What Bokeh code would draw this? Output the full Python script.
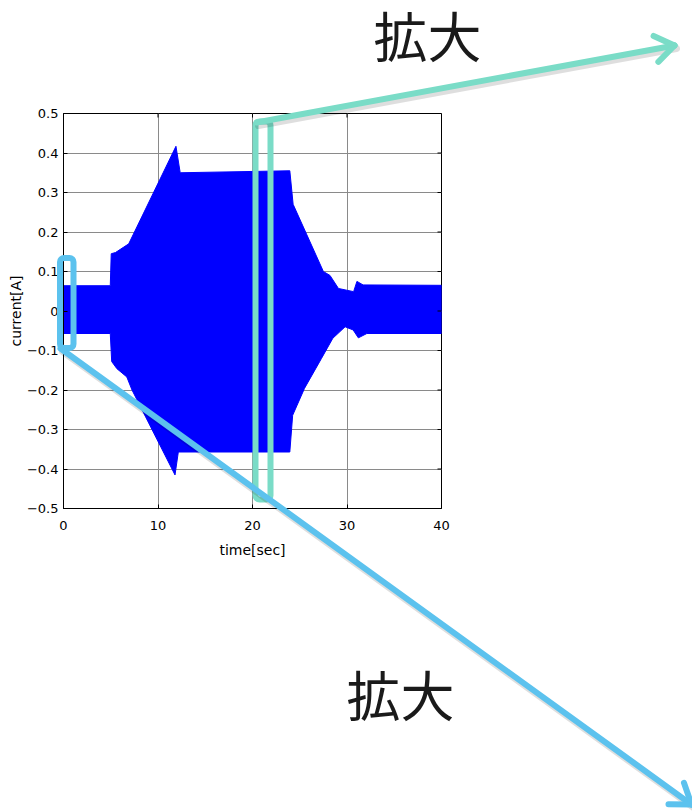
import math
from bokeh.plotting import figure
from bokeh.models import Range1d, FixedTicker
from bokeh.core.properties import value
from bokeh.embed import file_html
from bokeh.resources import INLINE

# envelope of the current waveform (upper / lower)
t_upper = [0.0, 4.95, 5.05, 5.5, 6.9, 11.9, 12.35, 23.95, 24.3, 27.5, 28.2, 29.1, 30.7, 31.05, 31.7, 40.0]
i_upper = [0.064, 0.064, 0.145, 0.148, 0.17, 0.417, 0.35, 0.355, 0.27, 0.10, 0.09, 0.057, 0.049, 0.075, 0.066, 0.065]
t_lower = [0.0, 4.95, 5.1, 5.65, 6.7, 7.25, 11.8, 12.15, 23.95, 24.25, 25.5, 27.3, 28.5, 29.8, 30.65, 31.2, 32.1, 40.0]
i_lower = [-0.057, -0.057, -0.128, -0.146, -0.167, -0.2, -0.415, -0.357, -0.357, -0.264, -0.196, -0.12, -0.069, -0.04, -0.048, -0.068, -0.057, -0.057]

x_ticks = [0, 10, 20, 30, 40]
y_ticks = [-0.5, -0.4, -0.3, -0.2, -0.1, 0, 0.1, 0.2, 0.3, 0.4, 0.5]
y_tick_labels = ["\u22120.5", "\u22120.4", "\u22120.3", "\u22120.2", "\u22120.1", "0",
                 "0.1", "0.2", "0.3", "0.4", "0.5"]

zoom_label = "拡大"
x_label = "time[sec]"
y_label = "current[A]"

FONT = "DejaVu Sans"
TEAL = "#7adcc7"
SKY = "#5cc2ee"

# layout (canvas pixels)
W, H = 692, 812
FL, FT, FW, FH = 63, 113, 378, 395
X0, X1, Y0, Y1 = 0, 40, -0.5, 0.5


def X(px):
    return X0 + (px - FL) / FW * (X1 - X0)


def Y(py):
    return Y1 - (py - FT) / FH * (Y1 - Y0)


p = figure(output_backend="svg", toolbar_location=None,
           frame_width=FW, frame_height=FH,
           min_border_left=FL, min_border_right=W - FL - FW,
           min_border_top=FT, min_border_bottom=H - FT - FH,
           x_range=Range1d(X0, X1), y_range=Range1d(Y0, Y1),
           background_fill_color="white", border_fill_color="white")

p.outline_line_color = "black"
p.outline_line_width = 1

for ax in (p.xaxis[0], p.yaxis[0]):
    ax.axis_line_color = "black"
    ax.major_tick_line_color = "black"
    ax.major_tick_in = 4
    ax.major_tick_out = 0
    ax.minor_tick_line_color = None
    ax.major_label_text_font = FONT
    ax.major_label_text_font_size = "13px"
    ax.major_label_text_color = "black"
    ax.axis_label_text_font = FONT
    ax.axis_label_text_font_size = "14px"
    ax.axis_label_text_font_style = "normal"
    ax.axis_label_text_color = "black"

p.xaxis[0].ticker = FixedTicker(ticks=x_ticks)
p.yaxis[0].ticker = FixedTicker(ticks=y_ticks)
p.yaxis[0].major_label_overrides = {v: s for v, s in zip(y_ticks, y_tick_labels)}
p.xaxis[0].axis_label = x_label
p.yaxis[0].axis_label = y_label
p.xaxis[0].major_label_standoff = 12
p.xaxis[0].axis_label_standoff = 9
p.yaxis[0].major_label_standoff = 5
p.yaxis[0].axis_label_standoff = 0

p.xgrid.ticker = FixedTicker(ticks=x_ticks)
p.ygrid.ticker = FixedTicker(ticks=y_ticks)
p.grid.grid_line_color = "#8a8a8a"
p.grid.grid_line_width = 1

# waveform envelope
xs = t_upper + t_lower[::-1]
ys = i_upper + i_lower[::-1]
p.patch(xs, ys, fill_color="#0000ff", line_color="#0000ff", line_width=1)

# inward tick marks on the top and right edges of the box
tick_dx = 4 / FW * (X1 - X0)
tick_dy = 4 / FH * (Y1 - Y0)
p.segment(x0=x_ticks, x1=x_ticks, y0=[Y1] * len(x_ticks), y1=[Y1 - tick_dy] * len(x_ticks),
          line_color="black", line_width=1)
p.segment(x0=[X1] * len(y_ticks), x1=[X1 - tick_dx] * len(y_ticks), y0=y_ticks, y1=y_ticks,
          line_color="black", line_width=1)


def seg(a, b, color, width, alpha=1.0):
    p.line([X(a[0]), X(b[0])], [Y(a[1]), Y(b[1])], line_color=color, line_alpha=alpha,
           line_width=width, line_cap="round", level="overlay")


def arrow(start, tip, color, head=23, ang=35):
    seg((start[0] + 2, start[1] + 3), (tip[0] + 2, tip[1] + 3), "#000000", 7, 0.13)
    seg(start, tip, color, 6)
    dx, dy = start[0] - tip[0], start[1] - tip[1]
    n = math.hypot(dx, dy)
    ux, uy = dx / n, dy / n
    for s in (1, -1):
        a = math.radians(ang * s)
        wx = ux * math.cos(a) - uy * math.sin(a)
        wy = ux * math.sin(a) + uy * math.cos(a)
        seg(tip, (tip[0] + wx * head, tip[1] + wy * head), color, 6)


def box(l, r, t, b, color):
    p.quad(left=[X(l)], right=[X(r)], top=[Y(t)], bottom=[Y(b)], fill_alpha=0,
           line_color=color, line_width=6, border_radius=4, level="overlay")


# highlight boxes
box(255, 270, 121, 499, TEAL)
box(59.5, 73, 257.5, 347.5, SKY)

# zoom arrows
arrow((256, 122), (674, 45), TEAL)
arrow((60, 348), (691, 804), SKY)

# "拡大" labels
p.text(x=[X(373), X(346)], y=[Y(33.5), Y(692.5)], text=[zoom_label, zoom_label],
       text_font=value("Noto Sans CJK JP"), text_font_size="54px", text_color="#1a1a1a",
       text_align="left", text_baseline="middle", level="overlay")

open("out.html", "w").write(file_html(p, INLINE))
